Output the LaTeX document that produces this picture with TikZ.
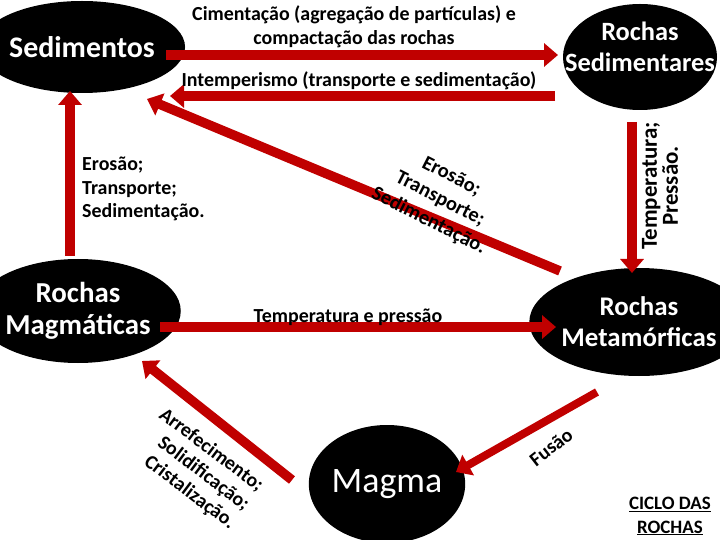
\documentclass[tikz,border=0pt]{standalone}
\usepackage{fontspec}
\setmainfont{Carlito}
\usetikzlibrary{arrows.meta,shapes.geometric}
\definecolor{arrred}{HTML}{C00000}
\newcommand{\fsz}[2]{\fontsize{#1}{#2}\selectfont}
\tikzset{
  rock/.style={ellipse, fill=black, text=white, align=center, inner sep=0pt},
  rocktext/.style={text=white, align=center, inner sep=0pt},
  bigarrow/.style={draw=arrred, line width=9.5bp, -{Triangle[width=23bp,length=14bp]}},
  lbl/.style={align=center, inner sep=0pt},
}
\begin{document}
\begin{tikzpicture}[x=1bp,y=-1bp]
\useasboundingbox (0,0) rectangle (720,540);
% rock nodes
\node[rock, font=\bfseries\fsz{30}{32}, minimum width=162bp, minimum height=92bp] (sed) at (82,47) {Sedimentos};
\node[rock, minimum width=154bp, minimum height=106bp] (rsed) at (640,57) {};
\node[rocktext, font=\bfseries\fsz{26.5}{31}] (rsedt) at ([yshift=10bp]rsed.center) {Rochas\\Sedimentares};
\node[rock, font=\bfseries\fsz{29}{32}, minimum width=154bp, minimum height=104bp] (mag) at (78,311) {Rochas\\Magmáticas};
\node[rock, font=\bfseries\fsz{27}{31}, minimum width=158bp, minimum height=108bp] (met) at (639,322) {Rochas\\Metamórficas};
\node[rock, font=\fsz{36}{38}, minimum width=138bp, minimum height=118bp] (magma) at (387,484) {Magma};
% arrow end points
\coordinate (a1s) at (166,55); \coordinate (a1e) at (558,55);
\coordinate (a2s) at (555,96); \coordinate (a2e) at (170,96);
\coordinate (a3s) at (70,256); \coordinate (a3e) at (70,91);
\coordinate (a4s) at (560,271); \coordinate (a4e) at (147,99);
\coordinate (a5s) at (632,122); \coordinate (a5e) at (632,273);
\coordinate (a6s) at (160,327); \coordinate (a6e) at (556,327);
\coordinate (a7s) at (292,480); \coordinate (a7e) at (142,361);
\coordinate (a8s) at (597,392); \coordinate (a8e) at (456,472);
% arrows
\draw[bigarrow] (a1s) -- (a1e);
\draw[bigarrow] (a2s) -- (a2e);
\draw[bigarrow] (a3s) -- (a3e);
\draw[bigarrow] (a4s) -- (a4e);
\draw[bigarrow] (a5s) -- (a5e);
\draw[bigarrow] (a6s) -- (a6e);
\draw[bigarrow] (a7s) -- (a7e);
\draw[bigarrow, line width=8bp] (a8s) -- (a8e);
% labels
\node[lbl, font=\bfseries\fsz{20}{24}] (l1) at (354,27) {Cimentação (agregação de partículas) e\\compactação das rochas};
\node[lbl, font=\bfseries\fsz{20}{24}] (l2) at (359,81) {Intemperismo (transporte e sedimentação)};
\node[lbl, font=\bfseries\fsz{20}{23.5}, align=left, anchor=west] (l3) at (82,189) {Erosão;\\Transporte;\\Sedimentação.};
\node[lbl, font=\bfseries\fsz{20.5}{25}, rotate=-27] (l4) at (440,199) {Erosão;\\Transporte;\\Sedimentação.};
\node[lbl, font=\bfseries\fsz{23}{21}, rotate=90] (l5) at (660,186) {Temperatura;\\Pressão.};
\node[lbl, font=\bfseries\fsz{20}{24}] (l6) at (348,317) {Temperatura e pressão};
\node[lbl, font=\bfseries\fsz{20}{23.5}, rotate=-37, align=right] (l7) at (197,469) {Arrefecimento;\\Solidificação;\\Cristalização.};
\node[lbl, font=\bfseries\fsz{20}{24}, rotate=38] (l8) at (551,447) {Fusão};
\node[lbl, font=\bfseries\fsz{19}{24}] (l9) at (670,516) {\underline{CICLO DAS}\\\underline{ROCHAS}};
\end{tikzpicture}
\end{document}
